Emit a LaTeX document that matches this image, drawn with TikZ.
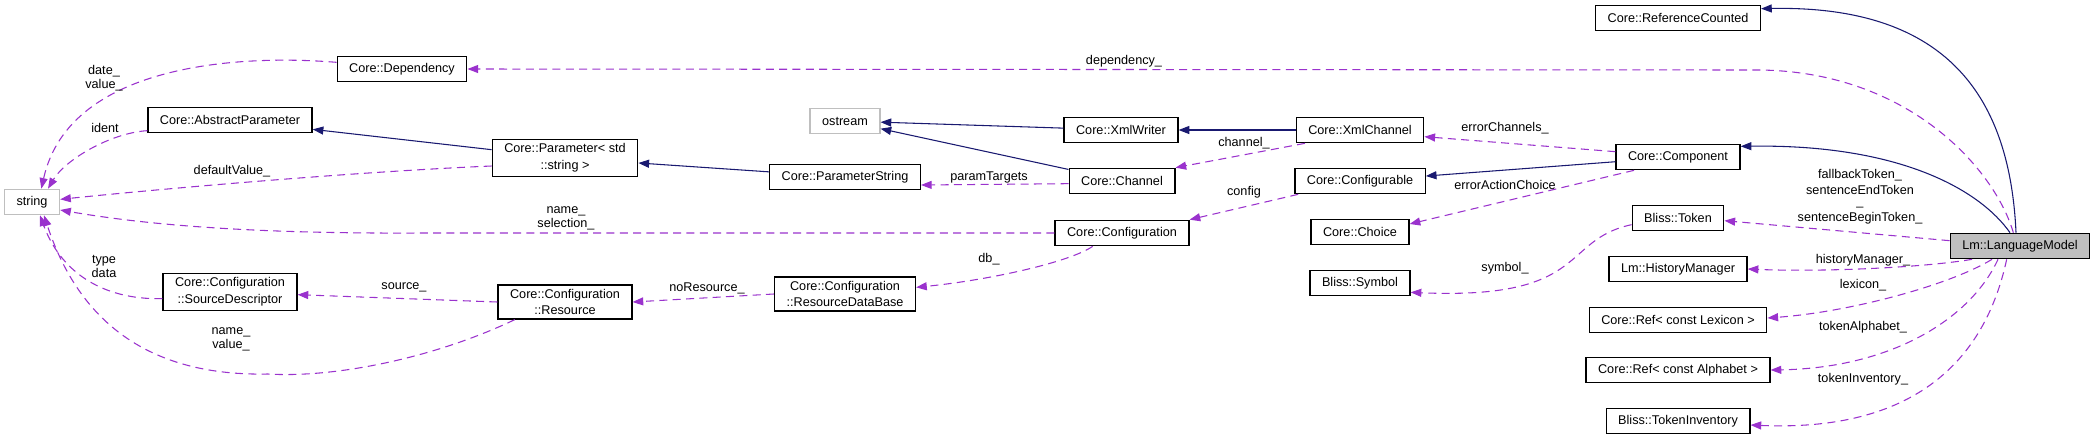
\documentclass[tikz,border=0pt]{standalone}
\usepackage{fontspec}
\setmainfont{Liberation Sans}
\usetikzlibrary{arrows.meta}
\definecolor{inhblue}{RGB}{25,25,112}
\definecolor{usepurple}{RGB}{154,50,205}
\definecolor{extgray}{RGB}{191,191,191}

\begin{document}
\begin{tikzpicture}[x=0.75pt, y=-0.75pt,
  font=\fontsize{9.5}{12.5}\selectfont,
  cls/.style={draw=black, line width=1pt, fill=white, minimum height=19pt, inner xsep=9pt, inner ysep=3pt, align=center},
  ext/.style={cls, draw=extgray},
  self/.style={cls, fill=extgray},
  inh/.style={draw=inhblue, line width=0.8pt, -{Triangle[length=8pt,width=6pt]}},
  use/.style={draw=usepurple, line width=0.8pt, dash pattern=on 6pt off 4pt, -{Triangle[length=8pt,width=6pt]}},
  lbl/.style={align=center, inner sep=0pt, font=\fontsize{9.5}{10.5}\selectfont}]
\useasboundingbox (0,0) rectangle (2095,440);
% classes
\node[ext] (string) at (32,202) {string};
\node[cls] (absparam) at (230,120) {Core::AbstractParameter};
\node[cls] (srcdesc) at (230,292) {Core::Configuration\\::SourceDescriptor};
\node[cls] (dep) at (402,69) {Core::Dependency};
\node[cls] (param) at (565,158) {Core::Parameter< std\\::string >};
\node[cls] (resource) at (565,302) {Core::Configuration\\::Resource};
\node[ext] (ostream) at (845,121) {ostream};
\node[cls] (paramstring) at (845,177) {Core::ParameterString};
\node[cls] (rdb) at (845,294) {Core::Configuration\\::ResourceDataBase};
\node[cls] (xmlwriter) at (1121,130) {Core::XmlWriter};
\node[cls] (channel) at (1122,181) {Core::Channel};
\node[cls] (configuration) at (1122,233) {Core::Configuration};
\node[cls] (xmlchannel) at (1360,130) {Core::XmlChannel};
\node[cls] (configurable) at (1360,181) {Core::Configurable};
\node[cls] (choice) at (1360,232) {Core::Choice};
\node[cls] (symbol) at (1360,283) {Bliss::Symbol};
\node[cls] (refcounted) at (1678,18) {Core::ReferenceCounted};
\node[cls] (component) at (1678,157) {Core::Component};
\node[cls] (token) at (1678,218) {Bliss::Token};
\node[cls] (history) at (1678,269) {Lm::HistoryManager};
\node[cls] (reflex) at (1678,320) {Core::Ref< const Lexicon >};
\node[cls] (refalpha) at (1678,370) {Core::Ref< const Alphabet >};
\node[cls] (tokinv) at (1678,421) {Bliss::TokenInventory};
\node[self] (lm) at (2020,246) {Lm::LanguageModel};
% inheritance
\draw[inh] (param) -- (absparam);
\draw[inh] (paramstring) -- (param);
\draw[inh] (xmlwriter) -- (ostream);
\draw[inh] (channel) -- (ostream);
\draw[inh] (xmlchannel) -- (xmlwriter);
\draw[inh] (component) -- (configurable);
\draw[inh] ([xshift=-7.5pt]lm.north) .. controls (1980,190) and (1900,144) .. ([yshift=-2pt]component.north east);
\draw[inh] ([xshift=-3pt]lm.north) .. controls (2010,100) and (1950,5) .. ([yshift=-3pt]refcounted.north east);
% usage
\draw[use] ([xshift=-5pt]lm.north) .. controls (1995,170) and (1910,72) .. (1760,70) -- (dep.east);
\draw[use] ([yshift=5pt]dep.west) .. controls (250,55) and (70,60) .. ([xshift=7pt]string.north);
\draw[use] ([yshift=-8pt]absparam.west) .. controls (110,133) and (65,160) .. ([xshift=12pt]string.north);
\draw[use] ([yshift=-6pt]param.west) .. controls (350,172) and (150,190) .. ([yshift=2pt]string.east);
\draw[use] (configuration.west) -- (420,233) .. controls (230,234) and (130,222) .. ([yshift=-6pt]string.east);
\draw[use] ([yshift=-5pt]srcdesc.west) .. controls (100,300) and (60,270) .. ([xshift=6pt]string.south);
\draw[use] ([xshift=13pt]resource.south west) .. controls (430,360) and (330,378) .. (268,374) .. controls (170,376) and (85,340) .. ([xshift=9pt]string.south);
\draw[use] (resource.west) -- ([yshift=-2pt]srcdesc.east);
\draw[use] (rdb.west) -- (resource.east);
\draw[use] ([xshift=-22pt]configuration.south) .. controls (1070,262) and (990,280) .. ([yshift=5pt]rdb.east);
\draw[use] ([yshift=-2pt]channel.west) -- ([yshift=-6pt]paramstring.east);
\draw[use] ([xshift=7pt]xmlchannel.south west) -- (channel.north east);
\draw[use] ([xshift=3pt]configurable.south west) -- (configuration.north east);
\draw[use] ([yshift=4pt]component.west) -- ([yshift=-5pt]xmlchannel.east);
\draw[use] ([xshift=14pt]component.south west) -- ([yshift=6pt]choice.east);
\draw[use] ([yshift=-5pt]token.west) .. controls (1560,240) and (1590,300) .. ([yshift=-7pt]symbol.east);
\draw[use] ([yshift=4pt]lm.west) -- ([yshift=-2pt]token.east);
\draw[use] ([xshift=-36pt]lm.south) .. controls (1920,268) and (1820,272) .. (history.east);
\draw[use] ([xshift=-21pt]lm.south) .. controls (1950,285) and (1850,312) .. ([yshift=1.5pt]reflex.east);
\draw[use] ([xshift=-16.5pt]lm.south) .. controls (1970,320) and (1890,368) .. (refalpha.east);
\draw[use] ([xshift=-10pt]lm.south) .. controls (1985,360) and (1915,432) .. ([yshift=-3pt]tokinv.east);
% labels
\node[lbl] (ldate) at (104,78) {date\_\\value\_};
\node[lbl] (lident) at (105,128) {ident};
\node[lbl] (ldefault) at (232,171) {defaultValue\_};
\node[lbl] (lselect) at (566,218) {name\_\\selection\_};
\node[lbl] (ltype) at (104,266) {type\\data};
\node[lbl] (lsource) at (404,287) {source\_};
\node[lbl] (lnamev) at (231,339) {name\_\\value\_};
\node[lbl] (lnores) at (707,288) {noResource\_};
\node[lbl] (ldb) at (989,259) {db\_};
\node[lbl] (ltargets) at (989,177) {paramTargets};
\node[lbl] (lchannel) at (1244,143) {channel\_};
\node[lbl] (lconfig) at (1244,192) {config};
\node[lbl] (ldep) at (1124,61) {dependency\_};
\node[lbl] (lerrch) at (1505,128) {errorChannels\_};
\node[lbl] (lerract) at (1505,185) {errorActionChoice};
\node[lbl] (lsymbol) at (1505,268) {symbol\_};
\node[lbl] (ltoken) at (1860,197) {fallbackToken\_\\[1.5pt]sentenceEndToken\\[-2.5pt]\_\\[1.5pt]sentenceBeginToken\_};
\node[lbl] (lhist) at (1863,260) {historyManager\_};
\node[lbl] (llex) at (1863,285) {lexicon\_};
\node[lbl] (lalpha) at (1863,327) {tokenAlphabet\_};
\node[lbl] (linv) at (1863,379) {tokenInventory\_};
\end{tikzpicture}
\end{document}
